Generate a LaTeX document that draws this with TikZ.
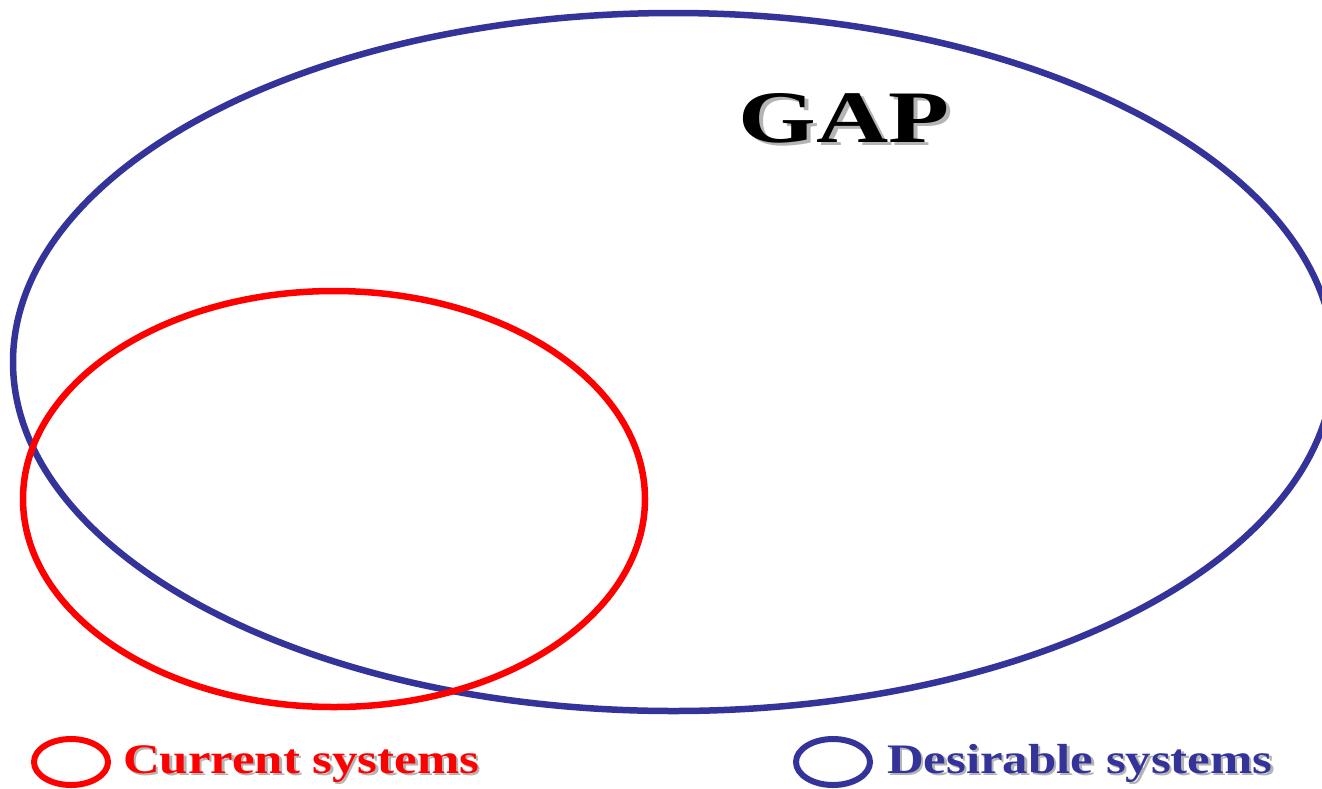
\documentclass[tikz,border=0pt]{standalone}
\usepackage{fontspec}
\setmainfont{Liberation Serif}
\definecolor{dblue}{HTML}{333399}
\definecolor{shad}{HTML}{B4B4B4}
\newcommand{\shtext}[2]{\makebox[0pt][l]{\hspace{#1}\raisebox{-#1}{\color{shad}#2}}#2}
\tikzset{
  ring/.style={draw, line width=#1},
  lbl/.style={anchor=base west, inner sep=0pt, font=\bfseries\fontsize{42}{48}\selectfont, xscale=1.21},
  gaplbl/.style={anchor=base west, inner sep=0pt, font=\bfseries\fontsize{74}{80}\selectfont, xscale=1.35},
}
\begin{document}
\begin{tikzpicture}[x=1pt,y=-1pt]
\useasboundingbox (0,0) rectangle (1322,788);
\clip (0,0) rectangle (1322,788);
\fill[white] (0,0) rectangle (1322,788);
% main ellipses
\draw[ring=6.5pt, dblue] (673.5,362) ellipse [x radius=660.5, y radius=349];
\draw[ring=6.5pt, red] (334,499) ellipse [x radius=311, y radius=208];
% GAP
\node[gaplbl, black] (gap) at (738,142) {\shtext{3pt}{GAP}};
% legend
\draw[ring=6pt, red] (71,762) ellipse [x radius=37, y radius=23];
\node[lbl, red] (cur) at (123,773) {\shtext{2pt}{Current systems}};
\draw[ring=6pt, dblue] (833,762) ellipse [x radius=37, y radius=23];
\node[lbl, dblue] (des) at (887,773) {\shtext{2pt}{Desirable systems}};
\end{tikzpicture}
\end{document}
